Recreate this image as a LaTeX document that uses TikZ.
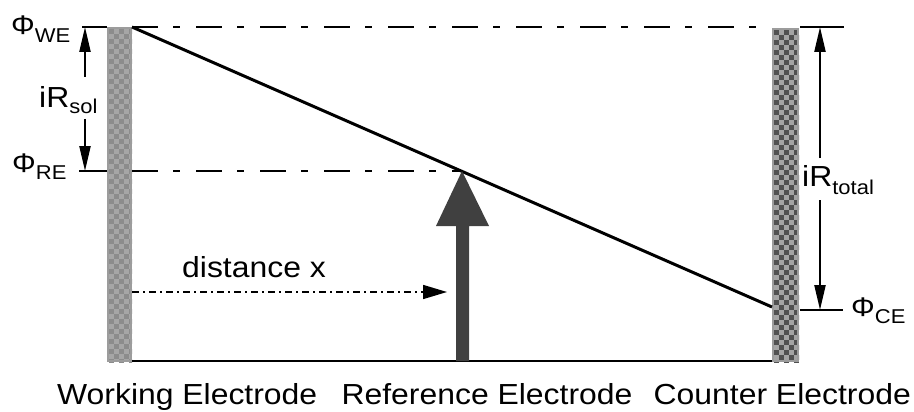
\documentclass[tikz,border=0pt]{standalone}
\usepackage{fontspec}
\usepackage{graphicx}
\setmainfont{Liberation Sans}
\usetikzlibrary{arrows.meta}
\definecolor{ldark}{HTML}{8C8C8C}
\definecolor{llight}{HTML}{A6A6A6}
\definecolor{rdark}{HTML}{505050}
\definecolor{rlight}{HTML}{A4A4A4}
\definecolor{eborder}{HTML}{9C9C9C}
\definecolor{bigarrow}{HTML}{404040}
\newcommand{\wideT}[1]{\scalebox{1.1}[1]{#1}}
\newcommand{\subT}[2]{\raisebox{-#1}{\fontsize{20}{20}\selectfont #2}}
\begin{document}
\begin{tikzpicture}[x=1pt,y=-1pt,
  lbl/.style={inner sep=0pt, anchor=base west, font=\fontsize{29}{31}\selectfont},
  philbl/.style={inner sep=0pt, anchor=base west, font=\fontsize{27}{29}\selectfont},
  level/.style={line width=2pt},
  dashdotline/.style={line width=2pt, dash pattern=on 26pt off 15pt on 7pt off 16pt},
  distline/.style={line width=1.6pt, dash pattern=on 7pt off 4pt on 2pt off 4pt, -{Triangle[length=24pt,width=14pt]}},
  dimarrow/.style={line width=2.2pt, -{Triangle[length=25pt,width=11pt]}}]
\useasboundingbox (0,0) rectangle (914,412);

% ---- electrodes ----
\begin{scope}
  \clip (107,27) rectangle (132,362);
  \fill[llight] (107,27) rectangle (132,362);
  \foreach \i in {0,2,4} \foreach \j in {0,2,...,66} {
    \fill[ldark] (109+\i*5,29+\j*5) rectangle ++(5,5);
    \fill[ldark] (114+\i*5,34+\j*5) rectangle ++(5,5);
  }
\end{scope}
\draw[eborder, line width=2pt] (108,28) rectangle (131,361);
\begin{scope}
  \clip (772,28) rectangle (799,362);
  \fill[rlight] (772,28) rectangle (799,362);
  \foreach \i in {0,2,4} \foreach \j in {0,2,...,66} {
    \fill[rdark] (774+\i*5,30+\j*5) rectangle ++(5,5);
    \fill[rdark] (779+\i*5,35+\j*5) rectangle ++(5,5);
  }
\end{scope}
\draw[eborder, line width=2pt] (773,29) rectangle (798,361);

% ---- coordinates ----
\coordinate (WEt) at (132,27);
\coordinate (WEb) at (132,361);
\coordinate (CEt) at (772,27);
\coordinate (CEb) at (772,361);
\coordinate (CEhit) at (772,307);
\coordinate (REpt) at (462,171);
\coordinate (REl) at (132,171);
\coordinate (WEl1) at (82,27);  \coordinate (WEl2) at (107,27);
\coordinate (REl1) at (79,171); \coordinate (REl2) at (107,171);
\coordinate (CEr1) at (800,27); \coordinate (CEr2) at (844,27);
\coordinate (CEs1) at (800,310); \coordinate (CEs2) at (843,310);
\coordinate (solA) at (85,77);  \coordinate (solB) at (85,119);
\coordinate (totA) at (820,158); \coordinate (totB) at (820,200);
\coordinate (distA) at (132,292); \coordinate (distB) at (447,292);

% ---- lines ----
\draw[dashdotline] (WEt) -- (CEt);
\draw[dashdotline] (REl) -- (REpt);
\draw[level] (WEl1) -- (WEl2);
\draw[level] (REl1) -- (REl2);
\draw[level] (CEr1) -- (CEr2);
\draw[level] (CEs1) -- (CEs2);
\draw[line width=3pt] (WEt) -- (CEhit);
\draw[level] (WEb) -- (CEb);

% ---- reference electrode arrow ----
\fill[bigarrow] (456,361) -- (456,226) -- (436,226) -- (REpt) -- (489,226) -- (469,226) -- (469,361) -- cycle;

% ---- dimension arrows ----
\draw[dimarrow] (solA) -- (WEl1 -| solA);
\draw[dimarrow] (solB) -- (REl1 -| solB);
\draw[dimarrow] (totA) -- (CEr1 -| totA);
\draw[dimarrow] (totB) -- (CEs1 -| totB);
\draw[distline] (distA) -- (distB);

% ---- labels ----
\node[philbl] (phiWE) at (11,35) {\wideT{Φ\subT{8pt}{WE}}};
\node[philbl] (phiRE) at (12,172) {\wideT{Φ\subT{7pt}{RE}}};
\node[philbl] (phiCE) at (851,316) {\wideT{Φ\subT{7pt}{CE}}};
\node[lbl] (iRsol) at (39,107) {\wideT{iR\subT{6pt}{sol}}};
\node[lbl] (iRtot) at (802,186) {\wideT{iR\subT{8pt}{total}}};
\node[lbl] (dist) at (182,277) {\wideT{distance x}};
\node[lbl] (we) at (57,404) {\wideT{Working Electrode}};
\node[lbl, anchor=base] (re) at (487,404) {\wideT{Reference Electrode}};
\node[lbl, anchor=base east] (ce) at (911,404) {\wideT{Counter Electrode}};
\end{tikzpicture}
\end{document}
